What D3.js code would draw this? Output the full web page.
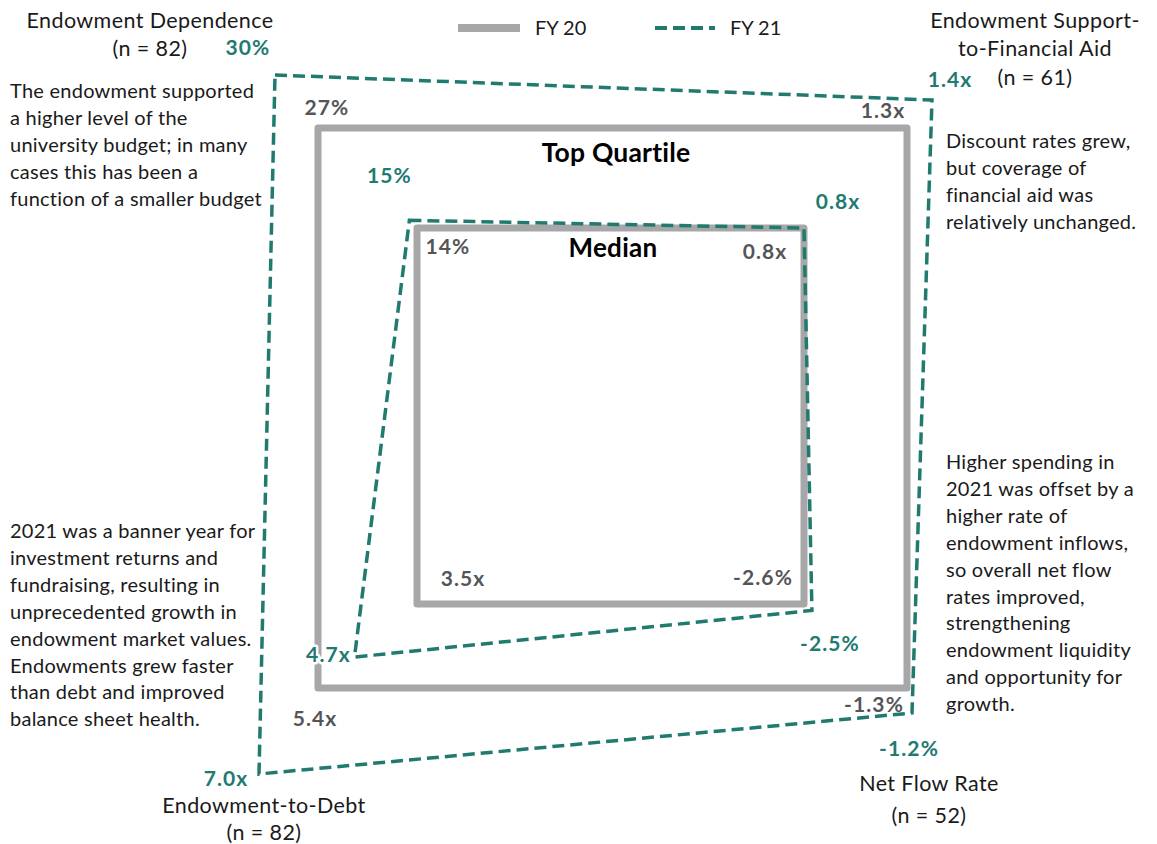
<!DOCTYPE html>
<html>
<head>
<meta charset="utf-8">
<script src="https://cdn.jsdelivr.net/npm/d3@7"></script>
<style>
  html, body { margin: 0; padding: 0; background: #fff; }
  svg { display: block; font-family: Lato, "Open Sans", sans-serif; }
</style>
</head>
<body>
<svg id="chart" width="1157" height="844"></svg>
<script>
// ---- data -------------------------------------------------------------
const axisNames = ["Endowment Dependence", "Endowment Support-to-Financial Aid", "Net Flow Rate", "Endowment-to-Debt"];
const axisTitleLines = [["Endowment Dependence", "(n = 82)"],
                        ["Endowment Support-", "to-Financial Aid", "(n = 61)"],
                        ["Net Flow Rate", "(n = 52)"],
                        ["Endowment-to-Debt", "(n = 82)"]];
const axisUnits = ["%", "x", "%", "x"];
const axisDecimals = [0, 1, 1, 1];

const fy20TopQuartile = [27, 1.3, -1.3, 5.4];
const fy20Median      = [14, 0.8, -2.6, 3.5];
const fy21TopQuartile = [30, 1.4, -1.2, 7.0];
const fy21Median      = [15, 0.8, -2.5, 4.7];

const legendLabels = ["FY 20", "FY 21"];

const notes = [
  ["The endowment supported", "a higher level of the", "university budget; in many", "cases this has been a", "function of a smaller budget"],
  ["Discount rates grew,", "but coverage of", "financial aid was", "relatively unchanged."],
  ["Higher spending in", "2021 was offset by a", "higher rate of", "endowment inflows,", "so overall net flow", "rates improved,", "strengthening", "endowment liquidity", "and opportunity for", "growth."],
  ["2021 was a banner year for", "investment returns and", "fundraising, resulting in", "unprecedented growth in", "endowment market values.", "Endowments grew faster", "than debt and improved", "balance sheet health."]
];

// ---- layout -----------------------------------------------------------
const cx = 611, cy = 412;
const GREY = "#a7a7aa", TEAL = "#217a70", GREY_TXT = "#555558", INK = "#1a1a1a";

// Each axis runs diagonally out from the centre; dir gives its quadrant,
// rx / ry the horizontal / vertical reach at each scale stop.
const axisGeom = [
  { dir: [-1, -1], rx: [194, 293, 336], ry: [184, 284, 337] },
  { dir: [ 1, -1], rx: [193, 296, 321], ry: [184, 284, 312] },
  { dir: [ 1,  1], rx: [193, 296, 301], ry: [192, 276, 301] },
  { dir: [-1,  1], rx: [194, 293, 352], ry: [192, 276, 362] }
];

const scales = axisGeom.map((g, i) => {
  const dom = [fy20Median[i], fy20TopQuartile[i], fy21TopQuartile[i]];
  return {
    x: d3.scaleLinear().domain(dom).range(g.rx.map(r => cx + g.dir[0] * r)),
    y: d3.scaleLinear().domain(dom).range(g.ry.map(r => cy + g.dir[1] * r))
  };
});

const pointsOf = vals => vals.map((v, i) => [scales[i].x(v), scales[i].y(v)]);

const locale = d3.formatLocale({ decimal: ".", thousands: ",", grouping: [3], currency: ["$", ""], minus: "-" });
const fmt = (v, i) => locale.format("." + axisDecimals[i] + "f")(v) + axisUnits[i];

const svg = d3.select("#chart");
const line = d3.line().curve(d3.curveLinearClosed);

// ---- FY 20 squares ----------------------------------------------------
[fy20TopQuartile, fy20Median].forEach(vals => {
  svg.append("path")
    .attr("d", line(pointsOf(vals)))
    .attr("fill", "none")
    .attr("stroke", GREY)
    .attr("stroke-width", 7)
    .attr("stroke-linejoin", "round");
});

// ---- FY 21 outlines ---------------------------------------------------
[fy21TopQuartile, fy21Median].forEach(vals => {
  svg.append("path")
    .attr("d", line(pointsOf(vals)))
    .attr("fill", "none")
    .attr("stroke", TEAL)
    .attr("stroke-width", 3.5)
    .attr("stroke-dasharray", "12 6");
});

// ---- ring titles ------------------------------------------------------
const tqTop = scales[0].y(fy20TopQuartile[0]);
const medTop = scales[0].y(fy20Median[0]);
svg.append("text").attr("x", 616).attr("y", tqTop + 25)
  .attr("dy", "0.35em")
  .attr("text-anchor", "middle").attr("font-weight", 700).attr("font-size", 26.5)
  .attr("letter-spacing", 0.2).attr("fill", "#000").text("Top Quartile");
svg.append("text").attr("x", 613).attr("y", medTop + 20)
  .attr("dy", "0.35em")
  .attr("text-anchor", "middle").attr("font-weight", 700).attr("font-size", 26)
  .attr("letter-spacing", 0.3).attr("fill", "#000").text("Median");

// ---- value labels -----------------------------------------------------
// off: label offset from its vertex; halo: white outline where a label sits on a line
const labelSets = [
  { vals: fy20TopQuartile, color: GREY_TXT, off: [[9, -20], [-24, -17], [-33, 17], [-3, 31]] },
  { vals: fy20Median,      color: GREY_TXT, off: [[31, 19], [-39, 24], [-41, -26], [46, -25]] },
  { vals: fy21TopQuartile, color: TEAL,     off: [[-27, -27], [18, -20], [-3, 36], [-33, 5]] },
  { vals: fy21Median,      color: TEAL,     off: [[-20, -45], [34, -26], [18, 33], [-26, -2]], halo: [false, false, false, true] }
];
labelSets.forEach(set => {
  const pts = pointsOf(set.vals);
  svg.append("g").selectAll("text").data(set.vals).join("text")
    .attr("x", (d, i) => pts[i][0] + set.off[i][0])
    .attr("y", (d, i) => pts[i][1] + set.off[i][1])
    .attr("dy", "0.35em")
    .attr("text-anchor", "middle")
    .attr("font-weight", 700)
    .attr("font-size", 21)
    .attr("letter-spacing", 1.1)
    .attr("fill", set.color)
    .attr("stroke", (d, i) => set.halo && set.halo[i] ? "#fff" : null)
    .attr("stroke-width", (d, i) => set.halo && set.halo[i] ? 5 : null)
    .attr("paint-order", "stroke")
    .attr("stroke-linejoin", "round")
    .text((d, i) => fmt(d, i));
});

// ---- axis titles ------------------------------------------------------
const titlePos = [
  { x: 150, y: 20, step: 28 },
  { x: 1035, y: 20, step: 28.5 },
  { x: 929, y: 783, step: 32 },
  { x: 264, y: 805, step: 27 }
];
axisTitleLines.forEach((lines, i) => {
  const t = svg.append("text").attr("text-anchor", "middle")
    .attr("font-size", 21.5).attr("letter-spacing", 0.4).attr("fill", INK);
  lines.forEach((s, k) => {
    t.append("tspan").attr("x", titlePos[i].x).attr("y", titlePos[i].y + k * titlePos[i].step)
      .attr("dy", "0.35em").text(s);
  });
});

// ---- notes ------------------------------------------------------------
const notePos = [
  { x: 10, y: 91 },
  { x: 946, y: 141 },
  { x: 946, y: 462 },
  { x: 10, y: 531 }
];
notes.forEach((lines, i) => {
  const t = svg.append("text").attr("font-size", 20).attr("letter-spacing", 0.25).attr("fill", INK);
  lines.forEach((s, k) => {
    t.append("tspan").attr("x", notePos[i].x).attr("y", notePos[i].y + k * 26.9)
      .attr("dy", "0.35em").text(s);
  });
});

// ---- legend -----------------------------------------------------------
const legend = svg.append("g");
legend.append("line").attr("x1", 458).attr("x2", 520).attr("y1", 28).attr("y2", 28)
  .attr("stroke", GREY).attr("stroke-width", 8);
legend.append("text").attr("x", 535).attr("y", 28).attr("dy", "0.35em")
  .attr("font-size", 20).attr("fill", INK).text(legendLabels[0]);
legend.append("line").attr("x1", 655).attr("x2", 715).attr("y1", 28).attr("y2", 28)
  .attr("stroke", TEAL).attr("stroke-width", 4).attr("stroke-dasharray", "12 6");
legend.append("text").attr("x", 730).attr("y", 28).attr("dy", "0.35em")
  .attr("font-size", 20).attr("fill", INK).text(legendLabels[1]);
</script>
</body>
</html>
